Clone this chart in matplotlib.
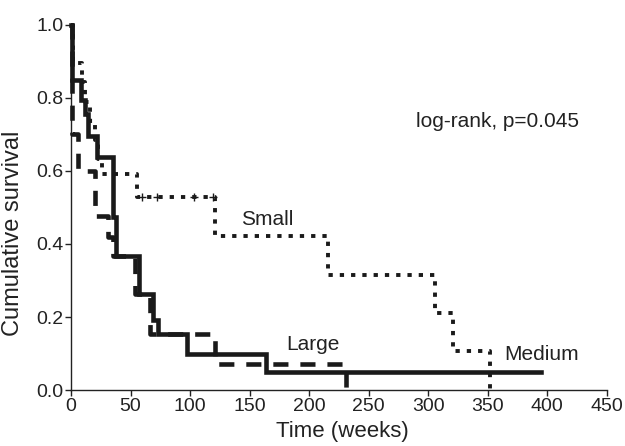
import matplotlib
matplotlib.use("Agg")
import matplotlib.pyplot as plt

# ---- data ----
medium_t = [0, 1, 8, 12, 14, 22, 35, 38, 57, 69, 73, 97, 164, 395]
medium_s = [1.0, 0.847, 0.795, 0.754, 0.695, 0.637, 0.473, 0.368, 0.264, 0.191, 0.155, 0.098, 0.051, 0.051]

large_t = [0, 1, 6, 20, 31, 35, 54, 66, 121, 231]
large_s = [1.0, 0.70, 0.60, 0.477, 0.42, 0.368, 0.264, 0.155, 0.073, 0.0]

small_t = [0, 2, 9, 12, 16, 20, 23, 26, 55.6, 121, 216, 306, 320.7, 352]
small_s = [1.0, 0.895, 0.842, 0.789, 0.737, 0.684, 0.632, 0.59, 0.528, 0.423, 0.314, 0.21, 0.106, 0.0]

small_cens_t = [60, 72, 103, 119]
small_cens_s = [0.528, 0.528, 0.528, 0.528]

x_ticks = [0, 50, 100, 150, 200, 250, 300, 350, 400, 450]
y_ticks = [0.0, 0.2, 0.4, 0.6, 0.8, 1.0]

plt.rcParams['font.family'] = ['Liberation Sans', 'DejaVu Sans']

fig = plt.figure(figsize=(6.25, 4.46), dpi=100)
ax = fig.add_axes([0.1136, 0.125, 0.8574, 0.82])

ax.step(medium_t, medium_s, where='post', color='#1a1a1a', lw=3.3,
        solid_joinstyle='miter', clip_on=False, zorder=3)
ax.step(large_t, large_s, where='post', color='#1a1a1a', lw=3.3,
        dashes=(3.3, 2.6), clip_on=False, zorder=3)
ax.step(small_t, small_s, where='post', color='#1a1a1a', lw=2.8,
        dashes=(1.1, 1.8), clip_on=False, zorder=3)
ax.plot(small_cens_t, small_cens_s, ls='none', marker='+', ms=6, mew=1.0,
        color='#1a1a1a', zorder=4)

ax.set_xlim(0, 450)
ax.set_ylim(0, 1.0)
ax.set_xticks(x_ticks)
ax.set_yticks(y_ticks)
ax.set_yticklabels([f"{v:.1f}" for v in y_ticks])

for s in ['top', 'right']:
    ax.spines[s].set_visible(False)
for s in ['left', 'bottom']:
    ax.spines[s].set_linewidth(1.0)
    ax.spines[s].set_color('#222222')

ax.tick_params(axis='both', direction='out', length=4, width=1.0,
               labelsize=14, pad=1.5, colors='#222222')

ax.set_xlabel('Time (weeks)', fontsize=16, color='#222222')
ax.set_ylabel('Cumulative survival', fontsize=17, color='#222222')
ax.xaxis.set_label_coords(0.506, -0.083)
ax.yaxis.set_label_coords(-0.088, 0.43)

ax.text(290, 0.735, 'log-rank, p=0.045', fontsize=15, va='center', ha='left', color='#222222')
ax.text(143, 0.468, 'Small', fontsize=15, va='center', ha='left', color='#222222')
ax.text(181, 0.124, 'Large', fontsize=15, va='center', ha='left', color='#222222')
ax.text(364, 0.097, 'Medium', fontsize=15, va='center', ha='left', color='#222222')

fig.savefig('out.png', dpi=100)
